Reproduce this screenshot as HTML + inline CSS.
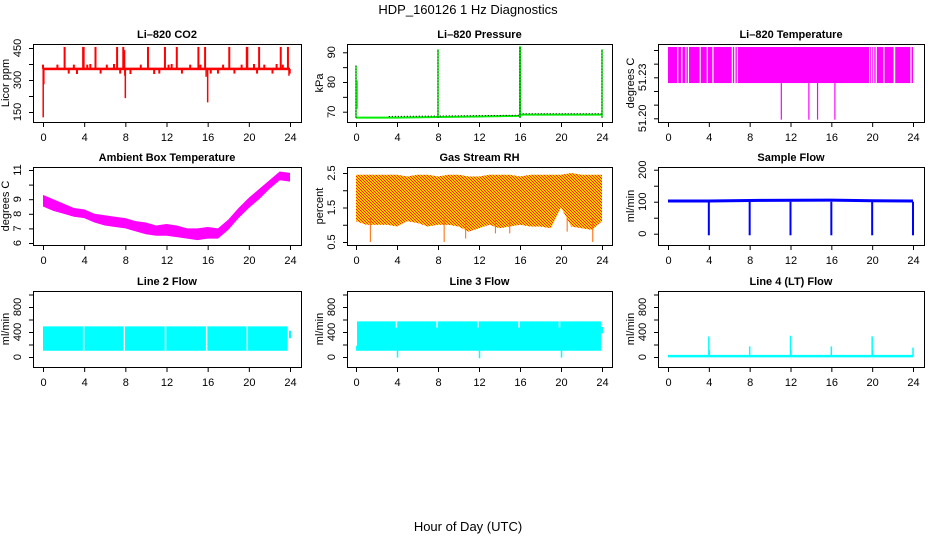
<!DOCTYPE html>
<html><head><meta charset="utf-8">
<style>
html,body{margin:0;padding:0;background:#fff;}
svg{display:block;font-family:"Liberation Sans",Arial,sans-serif;}
</style></head>
<body>
<svg id="c" width="936" height="540" viewBox="0 0 936 540" xmlns="http://www.w3.org/2000/svg">
<defs>
<pattern id="rhpat" width="3" height="3" patternUnits="userSpaceOnUse">
<rect width="3" height="3" fill="#ffcc00"/>
<rect x="0" y="0" width="1" height="1" fill="#ff2000"/>
<rect x="1" y="1" width="1" height="1" fill="#ff2000"/>
<rect x="2" y="2" width="1" height="1" fill="#ff2000"/>
</pattern>
</defs>
<text x="468" y="14" text-anchor="middle" font-size="13">HDP_160126  1 Hz Diagnostics</text>
<text x="468" y="531" text-anchor="middle" font-size="13">Hour of Day (UTC)</text>
</svg>
<script>
// ---- data ----
const xTicks = [0,4,8,12,16,20,24];
// CO2
const co2Base = 352;
const co2SpikeHours = [2.1,3.9,3.95,5.1,7.2,7.8,7.9,10.2,11.85,13.0,15.1,15.75,18.1,19.8,19.85,21.0,23.1,23.8];
const co2SpikeTops = [455,455,455,455,455,455,440,455,455,455,455,455,455,455,455,455,455,455];
const co2BumpHours = [1.4,2.5,3.0,3.3,4.3,4.6,5.6,6.2,6.9,7.5,8.5,9.5,10.8,11.3,12.2,12.5,13.5,14.3,15.3,16.3,17.0,17.5,18.6,19.3,20.5,20.8,21.5,22.3,22.7,23.3];
const co2BumpVals = [372,330,372,328,372,375,330,372,375,330,328,372,328,330,372,375,330,372,372,330,330,372,330,372,375,330,372,330,375,372];
const co2DipHours = [0.02,0.08,7.95,8.0,15.85,16.0,23.9,24.0];
const co2DipVals = [125,280,320,215,315,195,320,330];
// Pressure
const prHours = [0,0.1,1,4,8,12,16,16.05,20,24];
const prVals = [68,68,68,68,68.2,68.4,68.6,69,69,69];
const prSpikeHours = [0,0.1,8,16,24];
const prSpikeTops = [85.5,80.5,91,92,91];
// Li-820 temperature
const ltLow = 51.2258, ltHigh = 51.2522;
const ltGapHours = [0.95,1.35,1.75,2.0,3.15,3.85,4.4,6.3,6.55,6.8,19.75,19.95,20.15,20.4,21.15,22.15,22.2,23.8];
const ltDropHours = [11.1,13.8,14.65,16.35];
const ltDropVal = 51.199;
// Ambient box temperature
const ambHours = [0,1,2,3,4,5,6,7,8,9,10,11,12,13,14,15,16,17,18,19,20,21,22,23,24];
const ambLow = [8.5,8.2,8.0,7.8,7.7,7.4,7.2,7.1,7.0,6.8,6.6,6.5,6.5,6.4,6.3,6.2,6.3,6.3,6.9,7.7,8.4,9.0,9.7,10.3,10.2];
const ambHigh = [9.3,9.0,8.7,8.4,8.3,8.0,7.9,7.8,7.7,7.5,7.4,7.2,7.3,7.2,7.0,7.0,7.1,7.0,7.6,8.4,9.1,9.7,10.3,10.9,10.8];
// Gas stream RH
const rhHours = [0,1,2,3,4,5,6,7,8,9,10,11,12,13,14,15,16,17,18,19,20,21,22,23,24];
const rhLow = [1.1,1.0,1.0,1.0,0.95,1.1,1.05,0.95,1.0,1.0,0.95,0.8,0.9,1.0,0.9,0.95,1.0,0.95,0.95,0.9,1.5,0.95,0.9,0.85,1.1];
const rhHigh = [2.45,2.45,2.45,2.45,2.45,2.4,2.45,2.45,2.4,2.45,2.45,2.4,2.4,2.45,2.45,2.45,2.4,2.45,2.45,2.45,2.45,2.5,2.45,2.45,2.45];
const rhSpikeHours = [1.4,8.6,10.7,13.6,15.0,20.6,23.1];
const rhSpikeVals = [0.5,0.5,0.6,0.75,0.75,0.8,0.5];
// Sample flow
const sfHours = [0,4,9,16,20,24];
const sfVals = [102,102,104,105,103,102];
const sfDipHours = [4,8,12,16,20,24];
const sfDipVal = -5;
// Line 2 flow
const l2Low = 100, l2High = 490;
const l2GapHours = [3.95,7.9,11.9,15.9,19.85,23.85];
// Line 3 flow
const l3Low = 100, l3High = 570;
const l3GapHours = [3.95,7.9,11.9,15.9,19.85];
const l3DipHours = [4.05,12.05,20.05];
const l3DipVals = [-10,-20,-10];
// Line 4 flow
const l4Base = 15;
const l4SpikeHours = [4,8,12,16,20,24,4.05,12.05,20.05];
const l4SpikeVals = [330,170,340,170,330,150,110,110,110];

// ---- layout ----
const svg = document.getElementById('c');
const NS = 'http://www.w3.org/2000/svg';
function el(tag, attrs, parent){ const e=document.createElementNS(NS,tag); for(const k in attrs) e.setAttribute(k,attrs[k]); (parent||svg).appendChild(e); return e; }

const cols = [{l:33,r:301,x0:43,x24:290},{l:347,r:612,x0:356,x24:602},{l:658,r:924,x0:668,x24:913}];
const rows = [{t:44,b:122},{t:167,b:245},{t:291,b:367}];

function panel(ci, ri, name, title, ylab, yA, yB, yTicks, yLabels){
  const c=cols[ci], r=rows[ri];
  const g = el('g',{});
  
  
  const X = h => c.x0 + (h/24)*(c.x24-c.x0);
  const Y = v => yA[1] + (v-yA[0])*(yB[1]-yA[1])/(yB[0]-yA[0]);
  const t = el('text',{x:(c.l+c.r)/2, y:r.t-6, 'text-anchor':'middle','font-size':11,'font-weight':'bold'},g);
  t.textContent=title;
  
  
  const plot = el('g',{},g);
  
  
  const ax = el('g',{stroke:'#000','stroke-width':1,fill:'none'},g);
  
  
  el('rect',{x:c.l+0.5,y:r.t+0.5,width:c.r-c.l,height:r.b-r.t},ax);
  el('line',{x1:X(0),x2:X(24),y1:r.b+0.5,y2:r.b+0.5},ax);
  xTicks.forEach(h=>{
    el('line',{x1:X(h)+0.5,x2:X(h)+0.5,y1:r.b,y2:r.b+5},ax);
    const tx=el('text',{x:X(h)+0.5,y:r.b+19,'text-anchor':'middle','font-size':11,fill:'#000',stroke:'none'},g);
    tx.textContent=h;
    
    
  });
  el('line',{x1:c.l+0.5,x2:c.l+0.5,y1:Y(yTicks[0]),y2:Y(yTicks[yTicks.length-1])},ax);
  yTicks.forEach((v,i)=>{
    el('line',{x1:c.l-4,x2:c.l,y1:Y(v)+0.5,y2:Y(v)+0.5},ax);
    if(yLabels[i]!==''){
      const yy=Y(v);
      const ty=el('text',{x:0,y:0,transform:`translate(${c.l-12},${yy}) rotate(-90)`,'text-anchor':'middle','font-size':11,fill:'#000',stroke:'none'},g);
      ty.textContent=yLabels[i];
      
      
    }
  });
  const yl=el('text',{x:0,y:0,transform:`translate(${c.l-24},${(r.t+r.b)/2}) rotate(-90)`,'text-anchor':'middle','font-size':11},g);
  yl.textContent=ylab;
  
  
  return {X,Y,plot,c,r};
}
function vline(p,h,v1,v2,color,w,dash){ const a={x1:p.X(h),x2:p.X(h),y1:p.Y(v1),y2:p.Y(v2),stroke:color,'stroke-width':w||1}; if(dash) a['stroke-dasharray']=dash; return el('line',a,p.plot); }
function band(p,hours,lo,hi,fill){
  let d='M'+hours.map((h,i)=>p.X(h)+','+p.Y(hi[i])).join('L');
  for(let i=hours.length-1;i>=0;i--) d+='L'+p.X(hours[i])+','+p.Y(lo[i]);
  return el('path',{d:d+'Z',fill:fill},p.plot);
}

// CO2
{
  const p=panel(0,0,'co2','Li\u2013820 CO2','Licor ppm',[150,112],[450,48],[150,225,300,375,450],['150','','300','','450']);
  el('rect',{x:p.X(0),y:p.Y(co2Base+6),width:p.X(24)-p.X(0),height:p.Y(co2Base-6)-p.Y(co2Base+6),fill:'#ff0000'},p.plot);
  co2SpikeHours.forEach((h,i)=>{ vline(p,h,co2Base,co2SpikeTops[i],'#ff0000',2); });
  co2BumpHours.forEach((h,i)=>{ vline(p,h,co2Base,co2BumpVals[i],'#ff0000',2); });
  co2DipHours.forEach((h,i)=>{ vline(p,h,co2Base,co2DipVals[i],'#ff0000',1.5); });
  vline(p,0,co2Base,372,'#ff0000',2);
}
// Pressure
{
  const p=panel(1,0,'pressure','Li\u2013820 Pressure','kPa',[70,111.7],[90,52.3],[70,75,80,85,90],['70','','80','','90']);
  el('polyline',{points:prHours.map((h,i)=>p.X(h)+','+p.Y(prVals[i])).join(' '),fill:'none',stroke:'#00ee00','stroke-width':2},p.plot);
  el('polyline',{points:[[3.2,68.4],[16,68.8],[16.05,69.3],[24,69.3]].map(q=>p.X(q[0])+','+p.Y(q[1])).join(' '),fill:'none',stroke:'#000','stroke-width':1,'stroke-dasharray':'1,2'},p.plot);
  prSpikeHours.forEach((h,i)=>{
    const base=68;
    vline(p,h,(h===0.1?71:base),prSpikeTops[i],'#00ee00',h===16?2:1.5);
    if(h!==0.1) vline(p,h,base,prSpikeTops[i],'#000',1,'1,2');
  });
}
// Li-820 temperature
{
  const p=panel(2,0,'li820-temp','Li\u2013820 Temperature','degrees C',[51.20,118.3],[51.25,50],[51.20,51.21,51.22,51.23,51.24,51.25],['51.20','','','51.23','','']);
  el('rect',{x:p.X(0),y:p.Y(ltHigh),width:p.X(24)-p.X(0),height:p.Y(ltLow)-p.Y(ltHigh),fill:'#ff00ff'},p.plot);
  ltGapHours.forEach(h=>{ vline(p,h,ltLow,ltHigh,'#ffffff',1.2); });
  ltDropHours.forEach(h=>{ vline(p,h,ltLow,ltDropVal,'#ff00ff',1.2); });
}
// Ambient
{
  const p=panel(0,1,'ambient','Ambient Box Temperature','degrees C',[6,243],[11,170],[6,7,8,9,10,11],['6','7','8','9','','11']);
  band(p,ambHours,ambLow,ambHigh,'#ff00ff');
}
// RH
{
  const p=panel(1,1,'rh','Gas Stream RH','percent',[0.5,242],[2.5,173],[0.5,1,1.5,2,2.5],['0.5','','1.5','','2.5']);
  band(p,rhHours,rhLow,rhHigh,'url(#rhpat)');
  rhSpikeHours.forEach((h,i)=>{ vline(p,h,1.2,rhSpikeVals[i],'#ff6600',1); });
}
// Sample flow
{
  const p=panel(2,1,'sample-flow','Sample Flow','ml/min',[0,233.7],[200,169.7],[0,50,100,150,200],['0','','100','','200']);
  el('polyline',{points:sfHours.map((h,i)=>p.X(h)+','+p.Y(sfVals[i])).join(' '),fill:'none',stroke:'#0000ff','stroke-width':3},p.plot);
  sfDipHours.forEach(h=>{ vline(p,h,100,sfDipVal,'#0000ff',2); });
}
// Line 2
{
  const p=panel(0,2,'line2','Line 2 Flow','ml/min',[0,357],[800,307],[0,200,400,600,800,1000],['0','','400','','800','']);
  el('rect',{x:p.X(0),y:p.Y(l2High),width:p.X(23.8)-p.X(0),height:p.Y(l2Low)-p.Y(l2High),fill:'#00ffff'},p.plot);
  l2GapHours.forEach(h=>{ vline(p,h,l2Low,l2High,'#ffffff',1.5); });
  vline(p,24,300,420,'#00ffff',2);
}
// Line 3
{
  const p=panel(1,2,'line3','Line 3 Flow','ml/min',[0,357],[800,307],[0,200,400,600,800,1000],['0','','400','','800','']);
  el('rect',{x:p.X(0.1),y:p.Y(l3High),width:p.X(23.9)-p.X(0.1),height:p.Y(l3Low)-p.Y(l3High),fill:'#00ffff'},p.plot);
  el('rect',{x:p.X(0),y:p.Y(180),width:p.X(0.1)-p.X(0),height:p.Y(l3Low)-p.Y(180),fill:'#00ffff'},p.plot);
  l3GapHours.forEach(h=>{ vline(p,h,470,l3High,'#ffffff',1.5); });
  l3DipHours.forEach((h,i)=>{ vline(p,h,l3Low,l3DipVals[i],'#00ffff',1.5); });
  vline(p,24,380,480,'#00ffff',2);
}
// Line 4
{
  const p=panel(2,2,'line4','Line 4 (LT) Flow','ml/min',[0,357],[800,307],[0,200,400,600,800,1000],['0','','400','','800','']);
  el('line',{x1:p.X(0),x2:p.X(24),y1:p.Y(l4Base),y2:p.Y(l4Base),stroke:'#00ffff','stroke-width':2.5},p.plot);
  l4SpikeHours.forEach((h,i)=>{ vline(p,h,l4Base,l4SpikeVals[i],'#00ffff',1.5); });
}
</script>
</body></html>
